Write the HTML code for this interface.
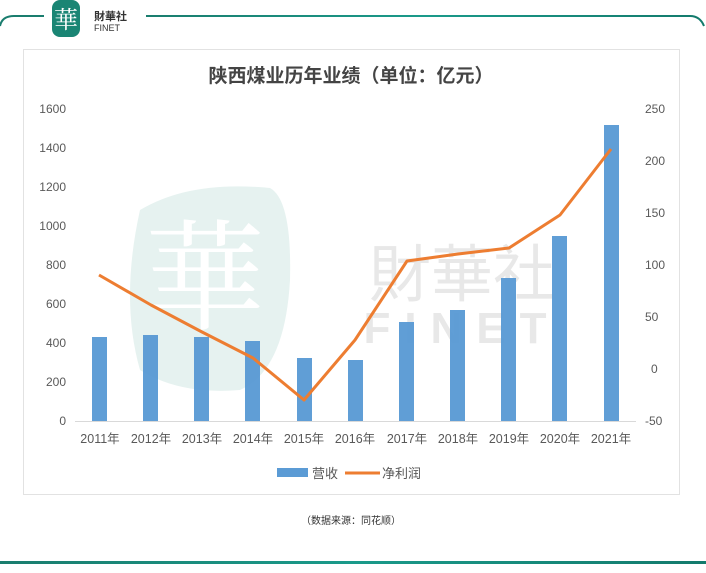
<!DOCTYPE html>
<html><head><meta charset="utf-8"><style>
body{margin:0;width:706px;height:573px;background:#fff;overflow:hidden;font-family:"Liberation Sans","Noto Sans CJK SC",sans-serif;}
</style></head><body>
<svg width="706" height="573" viewBox="0 0 706 573" xmlns="http://www.w3.org/2000/svg" style="position:absolute;left:0;top:0">
<defs><linearGradient id="g" x1="0" x2="1"><stop offset="0" stop-color="#1a7d6e"/><stop offset="0.5" stop-color="#1a9a8a"/><stop offset="1" stop-color="#137a6c"/></linearGradient></defs>
<path d="M0 26 Q2 16 14 16 L44 16" fill="none" stroke="#1a7d6e" stroke-width="2"/>
<path d="M146 16 L690 16 Q700 16 704 26" fill="none" stroke="url(#g)" stroke-width="2"/>
<rect x="0" y="561" width="706" height="3" fill="url(#g)"/>
<rect x="52" y="0" width="28" height="37" rx="8" fill="#1a8574"/>
<text x="66" y="28" font-size="24" fill="#fff" text-anchor="middle" font-family="Noto Serif CJK SC,serif">華</text>
<text x="94" y="20" font-size="11" fill="#333" font-weight="bold">財華社</text>
<text x="94" y="31" font-size="9" fill="#333">FINET</text>
<rect x="23.5" y="49.5" width="656" height="445" fill="#fff" stroke="#e2e2e2"/>
<text x="351" y="82" font-size="19" fill="#444" text-anchor="middle" font-family="Noto Sans CJK SC,sans-serif" font-weight="bold">陕西煤业历年业绩（单位：亿元）</text>
<path d="M140 210 Q190 180 270 188 Q292 200 290 280 Q285 370 240 390 Q180 395 140 370 Q120 300 140 210Z" fill="#e6f2f0"/>
<text x="205" y="320" font-size="120" fill="#fff" text-anchor="middle" font-family="Noto Serif CJK SC,serif">華</text>
<text x="462" y="296" font-size="62" fill="#e8e8e8" text-anchor="middle" font-family="Noto Sans CJK SC,sans-serif">財華社</text>
<text x="462" y="343" font-size="44" fill="#e8e8e8" text-anchor="middle" font-weight="bold" letter-spacing="14">FINET</text>
<g font-size="12" fill="#595959" text-anchor="end">
<text x="66" y="113">1600</text><text x="66" y="152">1400</text><text x="66" y="191">1200</text><text x="66" y="230">1000</text><text x="66" y="269">800</text><text x="66" y="308">600</text><text x="66" y="347">400</text><text x="66" y="386">200</text><text x="66" y="425">0</text>
</g>
<g font-size="12" fill="#595959" text-anchor="start">
<text x="645" y="113">250</text><text x="645" y="165">200</text><text x="645" y="217">150</text><text x="645" y="269">100</text><text x="645" y="321">50</text><text x="651" y="373">0</text><text x="645" y="425">-50</text>
</g>
<line x1="75" y1="421.5" x2="636" y2="421.5" stroke="#d9d9d9"/>
<g fill="#5b9bd5" opacity="0.97">
<rect x="92" y="337" width="15" height="84"/>
<rect x="143" y="335" width="15" height="86"/>
<rect x="194" y="337" width="15" height="84"/>
<rect x="245" y="341" width="15" height="80"/>
<rect x="297" y="358" width="15" height="63"/>
<rect x="348" y="360" width="15" height="61"/>
<rect x="399" y="322" width="15" height="99"/>
<rect x="450" y="310" width="15" height="111"/>
<rect x="501" y="278" width="15" height="143"/>
<rect x="552" y="236" width="15" height="185"/>
<rect x="604" y="125" width="15" height="296"/>
</g>
<polyline points="99,275 151,305 202,332 253,358 304,400 355,340 407,261 458,254 509,248 560,215 611,149" fill="none" stroke="#ed7d31" stroke-width="3" stroke-linejoin="round"/>
<g font-size="12.5" fill="#595959" text-anchor="middle">
<text x="100" y="443">2011年</text><text x="151" y="443">2012年</text><text x="202" y="443">2013年</text><text x="253" y="443">2014年</text><text x="304" y="443">2015年</text><text x="355" y="443">2016年</text><text x="407" y="443">2017年</text><text x="458" y="443">2018年</text><text x="509" y="443">2019年</text><text x="560" y="443">2020年</text><text x="611" y="443">2021年</text>
</g>
<rect x="277" y="468" width="31" height="9" fill="#5b9bd5"/>
<text x="312" y="478" font-size="13" fill="#595959">营收</text>
<line x1="345" y1="473" x2="380" y2="473" stroke="#ed7d31" stroke-width="3"/>
<text x="382" y="478" font-size="13" fill="#595959">净利润</text>
<text x="351" y="524" font-size="10" fill="#333" text-anchor="middle">（数据来源：同花顺）</text>
</svg>
</body></html>
